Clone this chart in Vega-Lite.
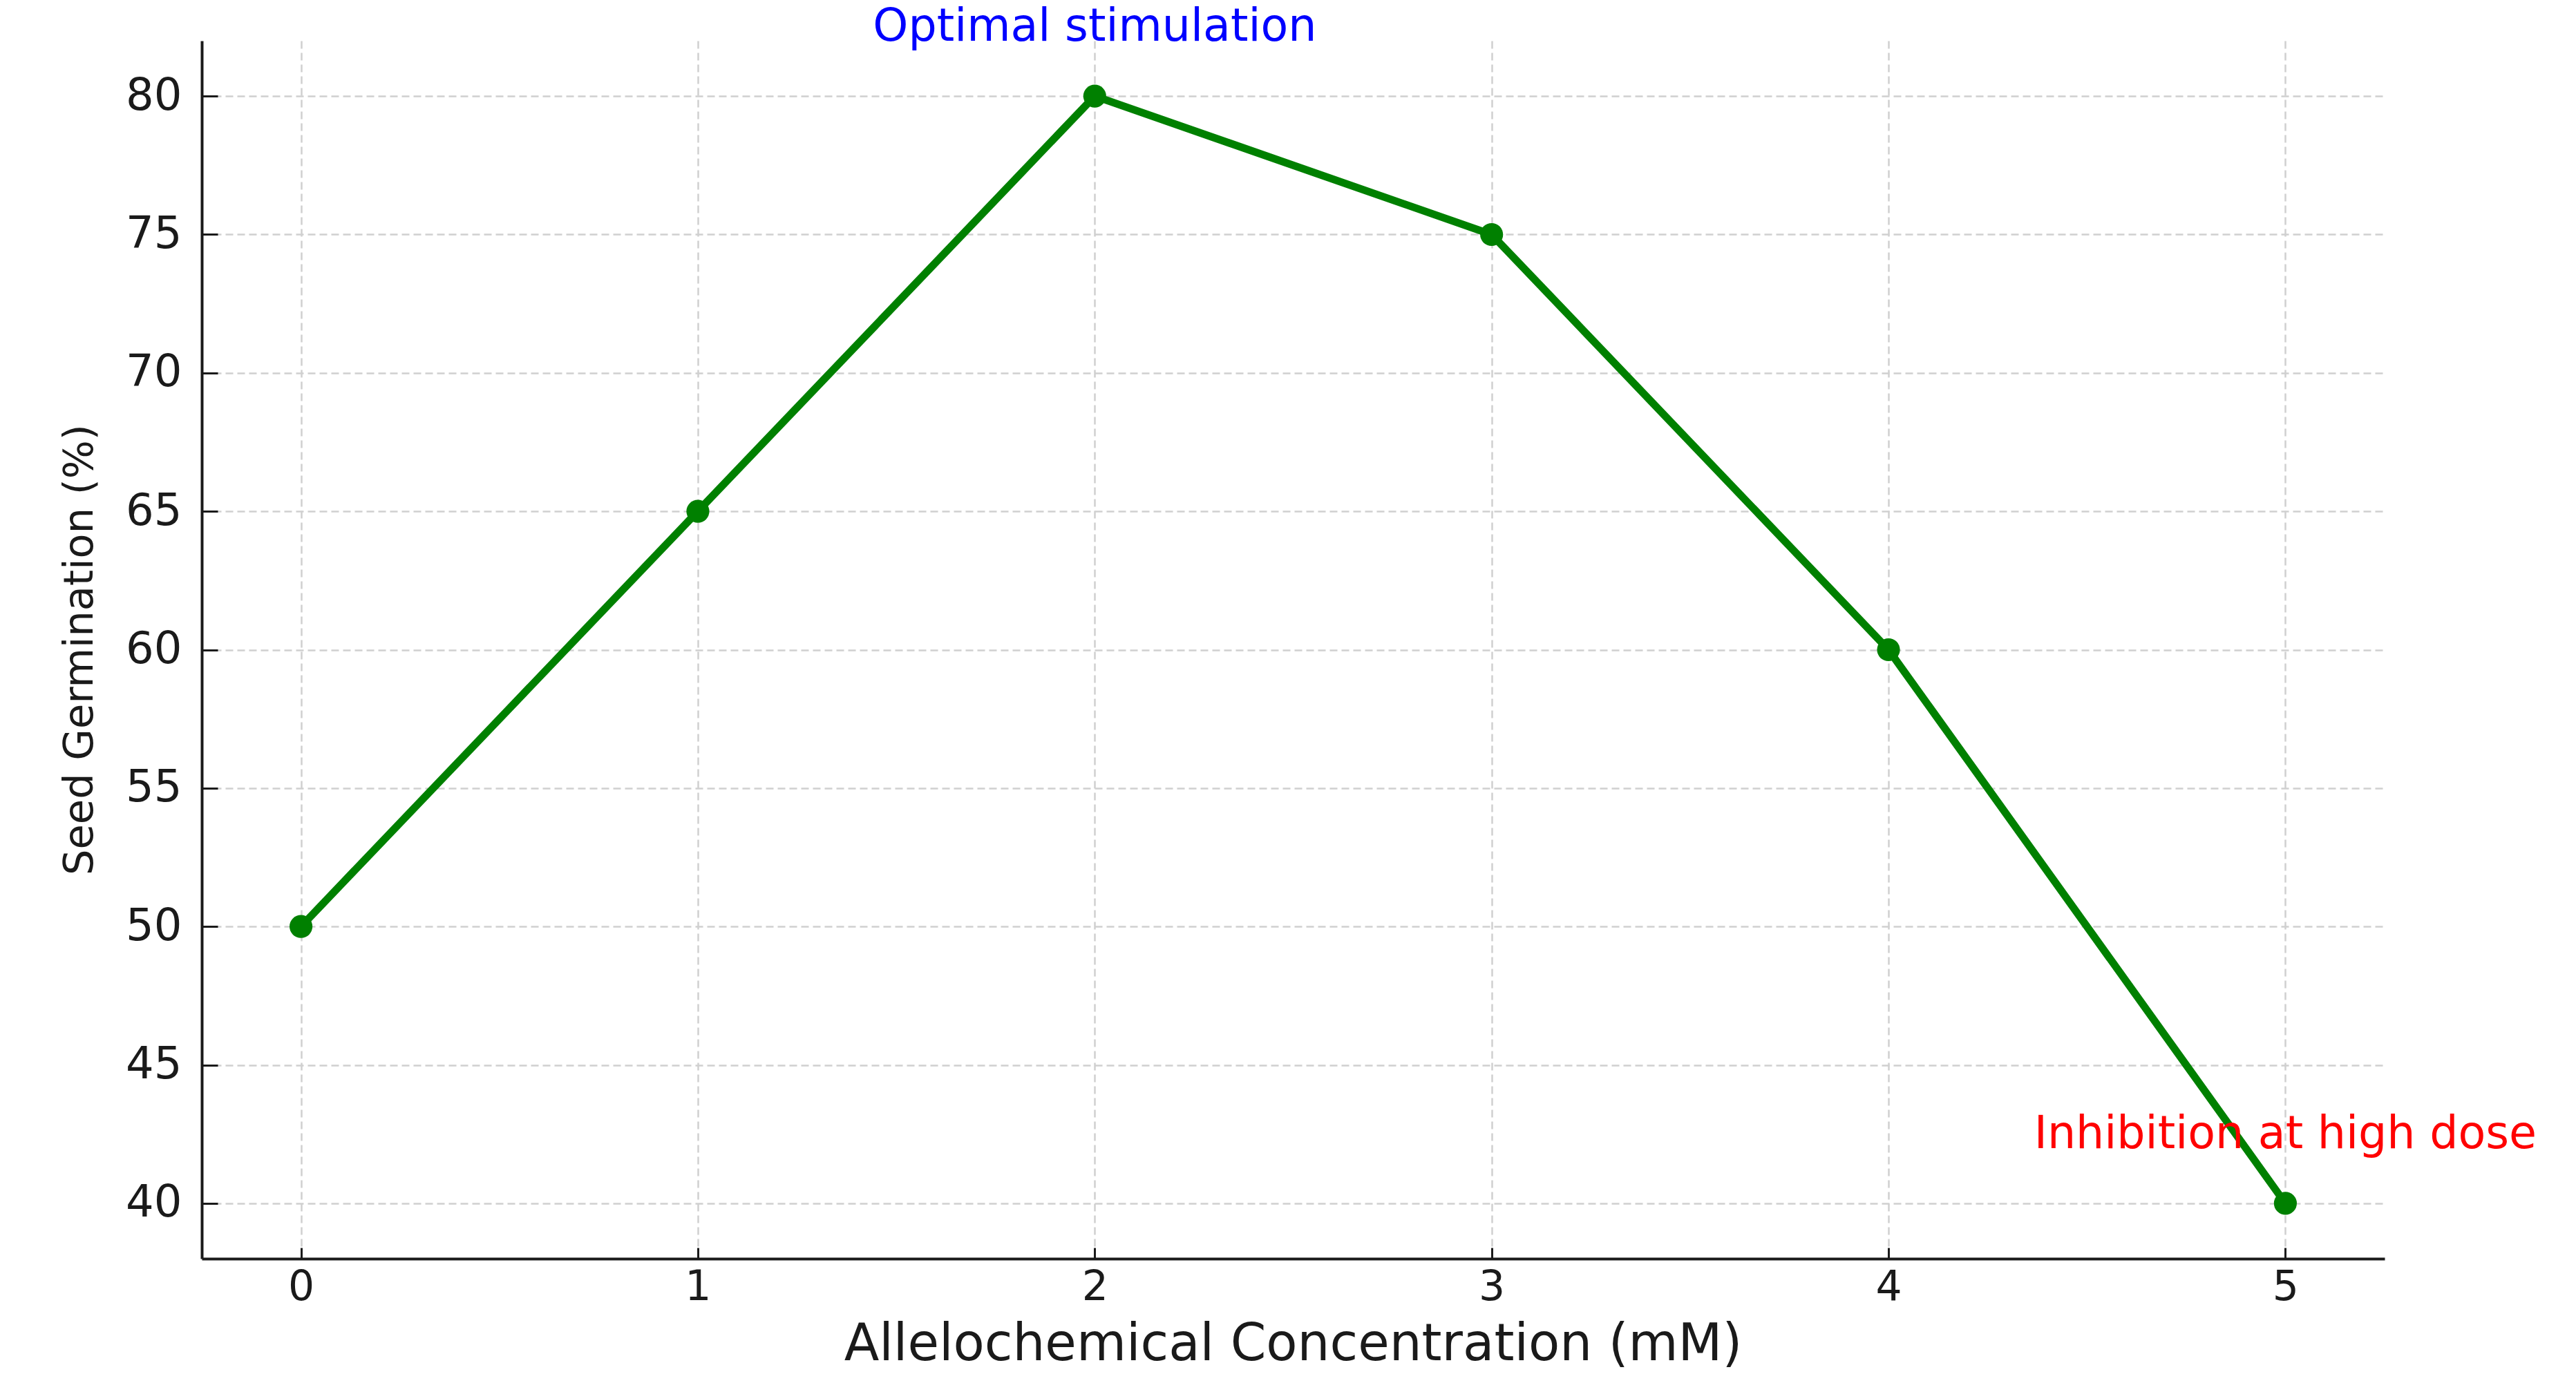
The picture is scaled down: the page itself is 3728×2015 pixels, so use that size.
{
  "$schema": "https://vega.github.io/schema/vega-lite/v6.json",
  "autosize": "none",
  "width": 3159,
  "height": 1763,
  "padding": {"left": 292, "top": 59, "right": 277, "bottom": 193},
  "background": "white",
  "config": {
    "view": {"stroke": null},
    "font": "DejaVu Sans",
    "axis": {
      "domainColor": "#1a1a1a",
      "domainWidth": 4,
      "tickColor": "#1a1a1a",
      "tickWidth": 3,
      "gridColor": "#d0d0d0",
      "gridWidth": 2.5,
      "gridDash": [11, 6],
      "labelColor": "#1a1a1a",
      "titleColor": "#1a1a1a",
      "labelFont": "DejaVu Sans",
      "titleFont": "DejaVu Sans",
      "titleFontWeight": "normal"
    }
  },
  "layer": [
    {
      "data": {"values": [
        {"conc": 0, "germ": 50},
        {"conc": 1, "germ": 65},
        {"conc": 2, "germ": 80},
        {"conc": 3, "germ": 75},
        {"conc": 4, "germ": 60},
        {"conc": 5, "germ": 40}
      ]},
      "mark": {"type": "line", "color": "#008000", "strokeWidth": 11, "point": {"filled": true, "size": 1100, "color": "#008000", "opacity": 1}},
      "encoding": {
        "x": {
          "field": "conc", "type": "quantitative",
          "scale": {"domain": [-0.25, 5.25], "nice": false, "zero": false},
          "axis": {
            "values": [0, 1, 2, 3, 4, 5],
            "format": "d",
            "grid": true,
            "tickSize": -16,
            "labelPadding": 28,
            "labelFontSize": 60,
            "title": "Allelochemical Concentration (mM)",
            "titleFontSize": 74,
            "titleBaseline": "alphabetic",
            "titleAlign": "center",
            "titleX": 1579,
            "titleY": 146
          }
        },
        "y": {
          "field": "germ", "type": "quantitative",
          "scale": {"domain": [38, 82], "nice": false, "zero": false},
          "axis": {
            "values": [40, 45, 50, 55, 60, 65, 70, 75, 80],
            "grid": true,
            "tickSize": -23,
            "labelPadding": 52,
            "labelFontSize": 64,
            "title": "Seed Germination (%)",
            "titleFontSize": 59,
            "titleAngle": -90,
            "titleBaseline": "alphabetic",
            "titleAlign": "center",
            "titleX": -159,
            "titleY": 881
          }
        }
      }
    },
    {
      "data": {"values": [{"conc": 2, "germ": 82, "note": "Optimal stimulation"}]},
      "mark": {"type": "text", "color": "#0000ff", "fontSize": 65, "align": "center", "baseline": "alphabetic", "font": "DejaVu Sans"},
      "encoding": {
        "x": {"field": "conc", "type": "quantitative"},
        "y": {"field": "germ", "type": "quantitative"},
        "text": {"field": "note"}
      }
    },
    {
      "data": {"values": [{"conc": 5, "germ": 42, "note": "Inhibition at high dose"}]},
      "mark": {"type": "text", "color": "#ff0000", "fontSize": 65, "align": "center", "baseline": "alphabetic", "font": "DejaVu Sans"},
      "encoding": {
        "x": {"field": "conc", "type": "quantitative"},
        "y": {"field": "germ", "type": "quantitative"},
        "text": {"field": "note"}
      }
    }
  ]
}
